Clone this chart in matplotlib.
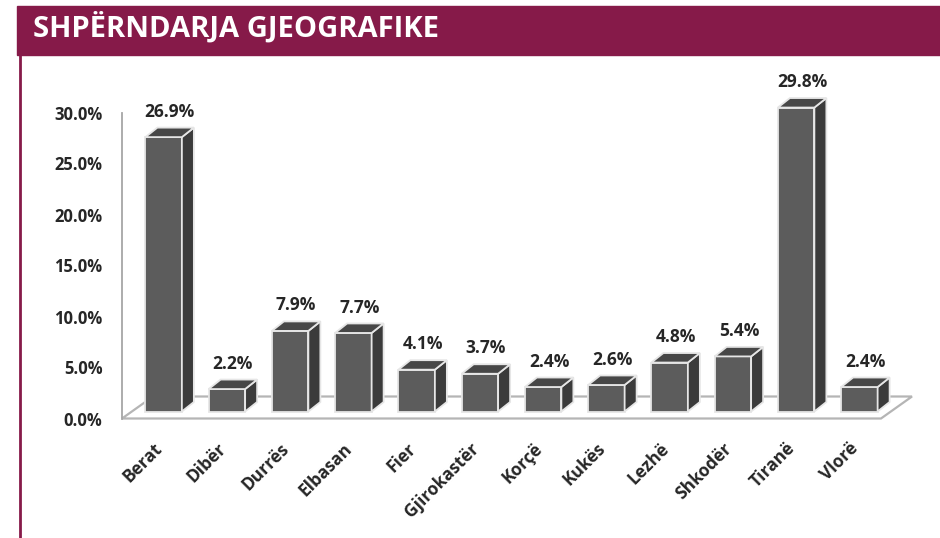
import numpy as np
import matplotlib.pyplot as plt
from matplotlib.patches import Polygon, Rectangle
from matplotlib.lines import Line2D

# data
regions = ['Berat', 'Dibër', 'Durrës', 'Elbasan', 'Fier', 'Gjirokastër',
           'Korçë', 'Kukës', 'Lezhë', 'Shkodër', 'Tiranë', 'Vlorë']
shares = [26.9, 2.2, 7.9, 7.7, 4.1, 3.7, 2.4, 2.6, 4.8, 5.4, 29.8, 2.4]
yticks = [0, 5, 10, 15, 20, 25, 30]

plt.rcParams['font.family'] = ['Open Sans', 'DejaVu Sans']
maroon = '#861a49'

W, H = 940, 538
fig = plt.figure(figsize=(W / 100, H / 100), dpi=100)

# header band + left border
fig.patches.append(Rectangle((17 / W, 1 - 55 / H), 1 - 17 / W, 49 / H,
                             transform=fig.transFigure, color=maroon, zorder=0))
fig.lines.append(Line2D([19.5 / W, 19.5 / W], [0, 1 - 55 / H], transform=fig.transFigure,
                        color=maroon, lw=2))
fig.text(33 / W, 1 - 28 / H, 'SHPËRNDARJA GJEOGRAFIKE', color='white', fontsize=21,
         fontweight='bold', va='center', ha='left')

ax = fig.add_axes([122 / W, 119.5 / H, 759 / W, 306 / H])
ax.set_xlim(-0.5, 11.5)
ax.set_ylim(0, 30)
px_x = 759 / 12.0   # pixels per category
px_y = 306 / 30.0   # pixels per percent

# 3d offsets (pixels -> data units)
floor_dx, floor_dy = 31 / px_x, 22 / px_y
off_x, off_y = 10 / px_x, 7 / px_y
dep_x, dep_y = 12 / px_x, 9.5 / px_y
bw = 36.5 / px_x

# floor
floor = Polygon([(-0.5, 0), (11.5, 0), (11.5 + floor_dx, floor_dy), (-0.5 + floor_dx, floor_dy)],
                closed=True, facecolor='white', edgecolor='#b5b5b5', lw=1.6,
                clip_on=False, zorder=1)
ax.add_patch(floor)

x = np.arange(len(regions))
ax.bar(x + off_x, shares, width=bw, bottom=off_y, color='#5c5c5c',
       edgecolor='#e6e6e6', linewidth=1.3, zorder=3, clip_on=False)
for xi, v in zip(x, shares):
    x0 = xi + off_x - bw / 2
    x1 = xi + off_x + bw / 2
    b = off_y
    h = off_y + v
    top = Polygon([(x0, h), (x1, h), (x1 + dep_x, h + dep_y), (x0 + dep_x, h + dep_y)],
                  facecolor='#474747', edgecolor='#e6e6e6', lw=1.3, zorder=3, clip_on=False)
    side = Polygon([(x1, b), (x1 + dep_x, b + dep_y), (x1 + dep_x, h + dep_y), (x1, h)],
                   facecolor='#3b3b3b', edgecolor='#e6e6e6', lw=1.3, zorder=3, clip_on=False)
    ax.add_patch(side)
    ax.add_patch(top)
    ax.annotate(f'{v:.1f}%', (xi + off_x + dep_x / 2, h + dep_y), xytext=(0, 5),
                textcoords='offset points', ha='center', va='bottom',
                fontsize=12.5, fontweight='bold', color='#262626', zorder=4,
                annotation_clip=False)

ax.set_yticks(yticks)
ax.set_yticklabels([f'{t:.1f}%' for t in yticks], fontsize=12, fontweight='bold',
                   color='#262626')
ax.set_xticks(x)
ax.set_xticklabels(regions, rotation=45, ha='right', va='top', rotation_mode='anchor',
                   fontsize=12.5, fontweight='bold', color='#262626')
ax.tick_params(axis='both', length=0)
ax.tick_params(axis='y', pad=14)
ax.tick_params(axis='x', pad=15)
for s in ['top', 'right', 'bottom']:
    ax.spines[s].set_visible(False)
ax.spines['left'].set_color('#a6a6a6')
ax.spines['left'].set_linewidth(1.3)
ax.patch.set_alpha(0)

fig.savefig('out.png', dpi=100)
